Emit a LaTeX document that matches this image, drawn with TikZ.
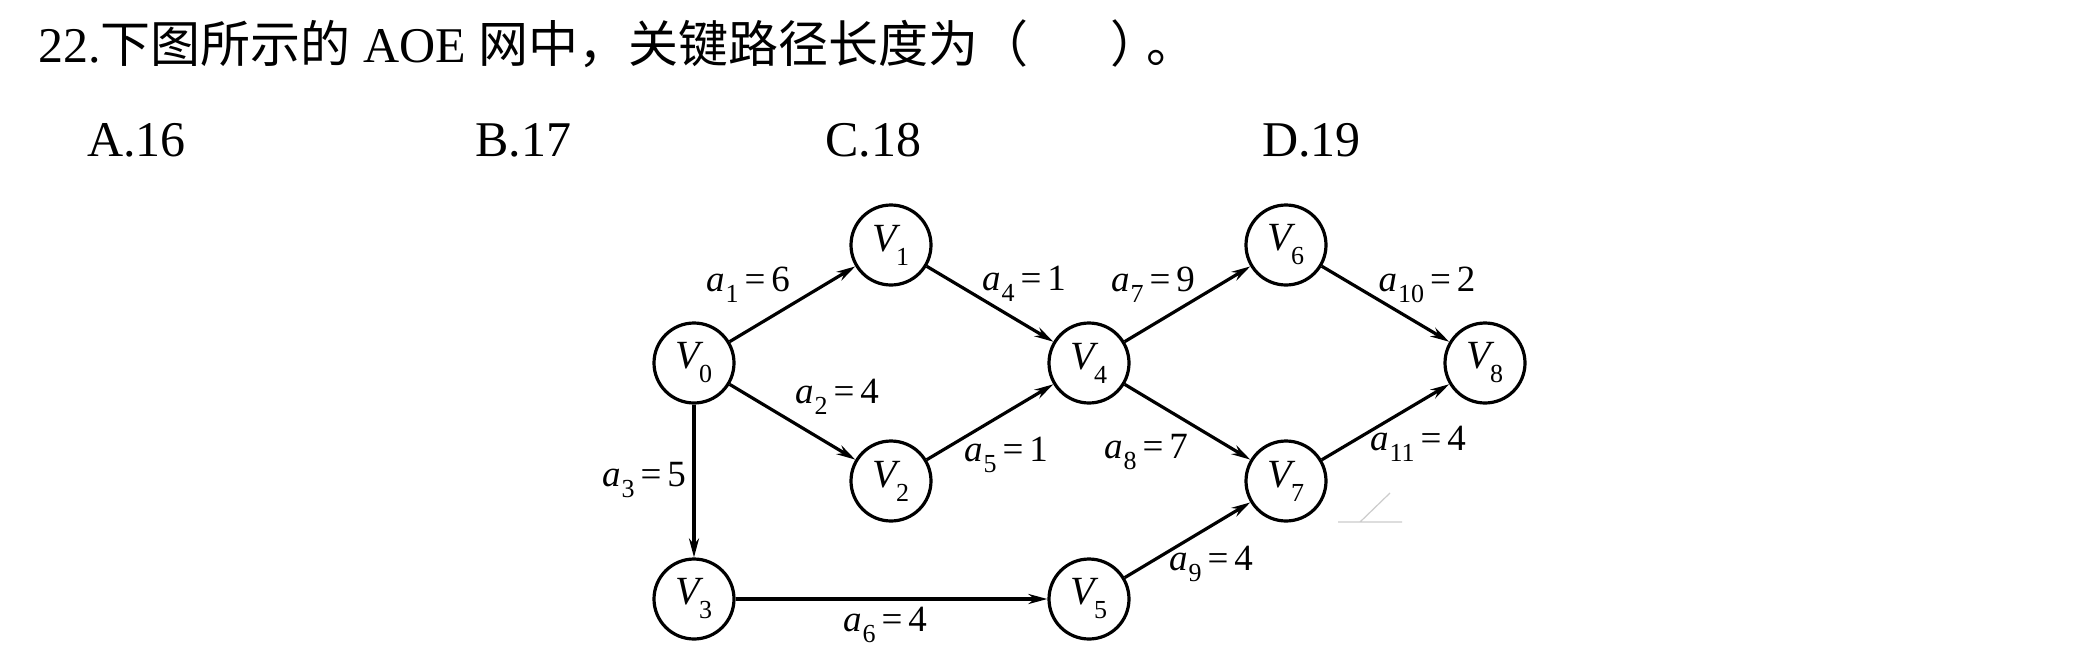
\documentclass[tikz,border=0pt]{standalone}
\usepackage{fontspec}
\usepackage{graphicx}
\setmainfont{Liberation Serif}
\newfontfamily\cjk{Noto Sans CJK SC}
\usetikzlibrary{arrows.meta}
\newcommand\elab[2]{\textit{a}\kern1pt\raisebox{-0.3em}{\fontsize{26}{28}\selectfont #1}\kern6pt=\kern6pt#2}
\newcommand\vlab[1]{\textit{V}\kern-5pt\raisebox{-0.35em}{\fontsize{26}{28}\selectfont #1}}
\begin{document}
\begin{tikzpicture}[x=1pt,y=-1pt,
  vnode/.style={circle,draw,line width=3.2pt,minimum size=80pt,inner sep=0pt,
    font=\fontsize{40}{44}\selectfont},
  elabel/.style={inner sep=0pt,font=\fontsize{37}{42}\selectfont},
  title/.style={inner sep=0pt,anchor=base west,font=\fontsize{50}{58}\selectfont},
  edge/.style={line width=3.2pt,-{Stealth[length=19pt,width=10pt]}}]
\useasboundingbox[fill=white] (0,0) rectangle (2081,657);
% title and options
\node[title] (q) at (38,62) {22.{\cjk 下图所示的} AOE {\cjk 网中，关键路径长度为（}\hspace{82pt}{\cjk ）}\hspace{-14pt}{\cjk 。}};
\node[title] (oa) at (87,156) {A.16};
\node[title] (ob) at (475,156) {B.17};
\node[title] (oc) at (825,156) {C.18};
\node[title] (od) at (1262,156) {D.19};
% vertices
\node[vnode] (v0) at (694,363) {\vlab{0}};
\node[vnode] (v1) at (891,245) {\vlab{1}};
\node[vnode] (v2) at (891,481) {\vlab{2}};
\node[vnode] (v3) at (694,599) {\vlab{3}};
\node[vnode] (v4) at (1089,363) {\vlab{4}};
\node[vnode] (v5) at (1089,599) {\vlab{5}};
\node[vnode] (v6) at (1286,245) {\vlab{6}};
\node[vnode] (v7) at (1286,481) {\vlab{7}};
\node[vnode] (v8) at (1485,363) {\vlab{8}};
% edges
\draw[edge] (v0) -- (v1);
\draw[edge] (v0) -- (v2);
\draw[edge] (v0) -- (v3);
\draw[edge] (v1) -- (v4);
\draw[edge] (v2) -- (v4);
\draw[edge] (v3) -- (v5);
\draw[edge] (v4) -- (v6);
\draw[edge] (v4) -- (v7);
\draw[edge] (v5) -- (v7);
\draw[edge] (v6) -- (v8);
\draw[edge] (v7) -- (v8);
% edge labels
\node[elabel] (l1) at (748,285) {\elab{1}{6}};
\node[elabel] (l2) at (837,397) {\elab{2}{4}};
\node[elabel] (l3) at (644,480) {\elab{3}{5}};
\node[elabel] (l4) at (1024,284) {\elab{4}{1}};
\node[elabel] (l5) at (1006,455) {\elab{5}{1}};
\node[elabel] (l6) at (885,625) {\elab{6}{4}};
\node[elabel] (l7) at (1153,285) {\elab{7}{9}};
\node[elabel] (l8) at (1146,452) {\elab{8}{7}};
\node[elabel] (l9) at (1211,564) {\elab{9}{4}};
\node[elabel] (l10) at (1427,285) {\elab{10}{2}};
\node[elabel] (l11) at (1418,444) {\elab{11}{4}};
% faint stray mark
\coordinate (m1) at (1390,493);
\coordinate (m2) at (1360,522);
\coordinate (m3) at (1338,522);
\coordinate (m4) at (1402,522);
\draw[black!20,line width=1.2pt] (m1) -- (m2) (m3) -- (m4);
\end{tikzpicture}
\end{document}
